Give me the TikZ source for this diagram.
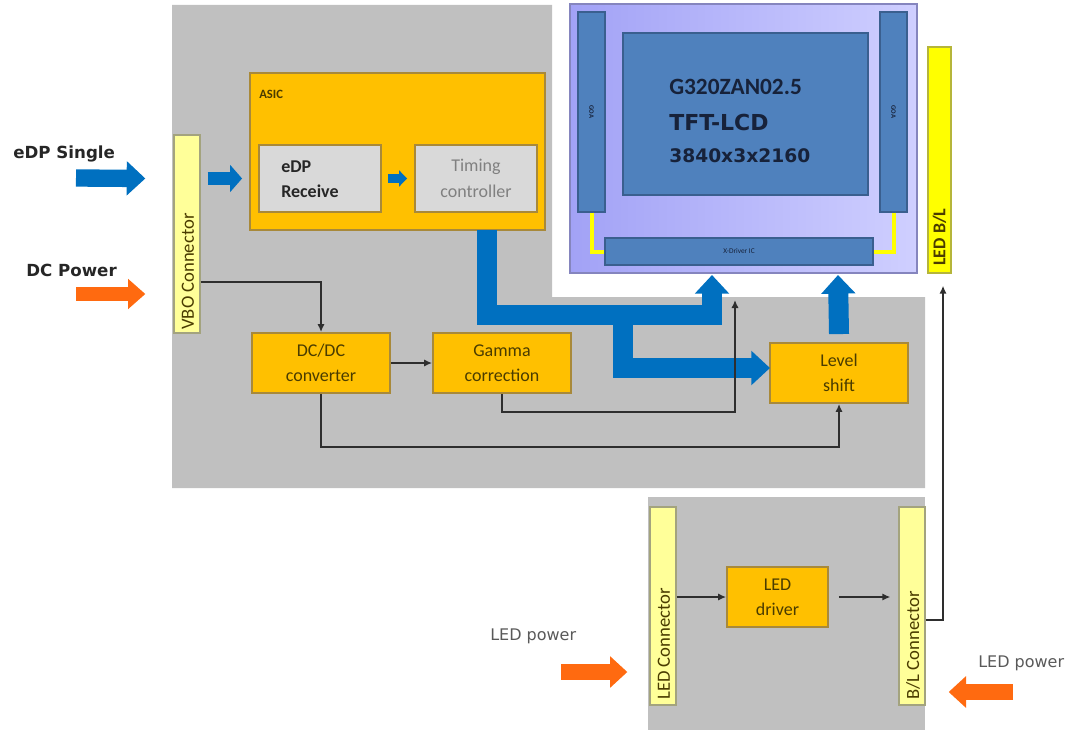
\documentclass[tikz,border=0pt]{standalone}
\usepackage{fontspec}
\setmainfont{Carlito}
\newfontfamily\dejavu{DejaVu Sans}
\usetikzlibrary{arrows.meta,fit,calc}
\definecolor{bggray}{HTML}{C0C0C0}
\definecolor{boxorange}{HTML}{FFC000}
\definecolor{boxborder}{HTML}{A8893A}
\definecolor{lgray}{HTML}{D9D9D9}
\definecolor{connfill}{HTML}{FFFF99}
\definecolor{connborder}{HTML}{A3A37E}
\definecolor{blbar}{HTML}{FFFF00}
\definecolor{blborder}{HTML}{B5B53A}
\definecolor{panelL}{HTML}{A2A2F6}
\definecolor{panelR}{HTML}{CFCFFF}
\definecolor{panelborder}{HTML}{8585BE}
\definecolor{steel}{HTML}{4F81BD}
\definecolor{steelborder}{HTML}{3A5F8F}
\definecolor{arrowblue}{HTML}{0070C0}
\definecolor{arroworange}{HTML}{FF6A10}
\definecolor{txtolive}{HTML}{4A3C00}
\definecolor{navy}{HTML}{17223A}
\definecolor{wiregray}{HTML}{2E2E2E}
\tikzset{
  region/.style={fill=bggray, draw=none},
  obox/.style={fill=boxorange, draw=boxborder, line width=1.4pt, inner sep=0pt,
    align=center, text=txtolive, font=\fontsize{13.5}{18.5}\selectfont},
  gbox/.style={fill=lgray, draw=boxborder, line width=1.4pt, inner sep=0pt,
    font=\fontsize{13.5}{18.5}\selectfont},
  boxtext/.style={align=center, inner sep=0pt, text=txtolive, font=\fontsize{13.5}{18.5}\selectfont},
  conn/.style={fill=connfill, draw=connborder, line width=1pt, inner sep=0pt},
  blbox/.style={fill=blbar, draw=blborder, line width=1pt, inner sep=0pt},
  steelbox/.style={fill=steel, draw=steelborder, line width=1pt, inner sep=0pt},
  connlabel/.style={rotate=90, anchor=west, inner sep=0pt, text=txtolive,
    font=\fontsize{14}{16}\selectfont},
  wire/.style={draw=wiregray, line width=1.6pt, -{Latex[length=6pt,width=5.5pt]}},
  fatblue/.style={draw=arrowblue, line width=15pt,
    -{Triangle[length=14pt,width=25pt]}},
  barrow/.style n args={4}{draw=#1, line width=#2,
    -{Triangle[length=#3,width=#4]}},
  yline/.style={draw=blbar, line width=3pt},
  extlabel/.style={anchor=west, inner sep=0pt, font=\dejavu\fontsize{12.5}{14}\selectfont\bfseries, text=black!85},
  pwrlabel/.style={anchor=west, inner sep=0pt, font=\dejavu\fontsize{12}{14}\selectfont, text=black!65},
  paneltext/.style={anchor=west, inner sep=0pt, text=navy}
}
\begin{document}
\begin{tikzpicture}[x=0.75pt, y=-0.75pt]
\useasboundingbox (0,0) rectangle (1073,734);

% gray backgrounds
\fill[region] (172,5) -- (552,5) -- (552,297) -- (925,297) -- (925,488) -- (172,488) -- cycle;
\node[region, inner sep=0pt, fit={(648,497) (925,730)}] (lowgray) {};

% VBO connector
\node[conn, fit={(174,135) (200,333)}] (vbo) {};
\node[connlabel] (vbolbl) at (188,330) {VBO Connector};

% ASIC
\node[obox, fit={(250,73) (545,230)}] (asic) {};
\node[anchor=west, inner sep=0pt, text=txtolive, font=\fontsize{9.5}{10}\selectfont\bfseries] (asiclbl) at (259,94) {ASIC};
\node[gbox, fit={(259,145) (381,212)}] (edprx) {};
\node[anchor=west, inner sep=0pt, align=left, font=\fontsize{13.5}{19}\selectfont\bfseries, text=black!85] (edprxt) at (281,179) {eDP\\Receive};
\node[gbox, fit={(415,145) (537,212)}] (tcon) {};
\node[align=center, inner sep=0pt, text=black!50, font=\fontsize{13.5}{19}\selectfont] (tcont) at (tcon.center) {Timing\\controller};

% LCD panel
\node[draw=panelborder, line width=1.2pt, left color=panelL, right color=panelR, inner sep=0pt, fit={(570,4) (917,273)}] (panel) {};
\node[steelbox, fit={(578,12) (605,212)}] (goaL) {};
\node[steelbox, fit={(880,12) (907,212)}] (goaR) {};
\node[rotate=-90, inner sep=0pt, text=navy, font=\fontsize{5}{6}\selectfont\bfseries] (goaLt) at (591.5,112) {GOA};
\node[rotate=-90, inner sep=0pt, text=navy, font=\fontsize{5}{6}\selectfont\bfseries] (goaRt) at (893.5,112) {GOA};
\node[steelbox, fit={(623,33) (868,195)}] (disp) {};
\node[paneltext, font=\fontsize{17.5}{19}\selectfont\bfseries] (t1) at (669,87) {G320ZAN02.5};
\node[paneltext, font=\dejavu\fontsize{16.5}{19}\selectfont\bfseries] (t2) at (669,122) {TFT-LCD};
\node[paneltext, font=\dejavu\fontsize{14}{17}\selectfont\bfseries] (t3) at (669,156) {3840x3x2160};
\node[steelbox, fit={(605,238) (873,265)}] (xdrv) {};
\node[inner sep=0pt, text=navy, font=\fontsize{5.5}{6}\selectfont] (xdrvt) at (xdrv.center) {X-Driver IC};
\draw[yline] (goaL.south) |- (xdrv.west);
\draw[yline] (goaR.south) |- (xdrv.east);

% LED B/L
\node[blbox, fit={(928,47) (951,273)}] (ledbl) {};
\node[connlabel, font=\fontsize{13.5}{16}\selectfont\bfseries] (ledblt) at (939.5,266) {LED B/L};

% lower blocks
\node[obox, fit={(252,333) (390,393)}] (dcdc) {};
\node[boxtext] (dcdct) at (dcdc.center) {DC/DC\\converter};
\node[obox, fit={(433,333) (571,393)}] (gamma) {};
\node[boxtext] (gammat) at (gamma.center) {Gamma\\correction};
\node[obox, fit={(770,343) (908,403)}] (lvl) {};
\node[boxtext] (lvlt) at (lvl.center) {Level\\shift};

% LED board
\node[conn, fit={(650,507) (676,705)}] (ledconn) {};
\node[connlabel] (ledconnt) at (664,700) {LED Connector};
\node[obox, fit={(727,567) (828,627)}] (leddrv) {};
\node[boxtext] (leddrvt) at (leddrv.center) {LED\\driver};
\node[conn, fit={(899,507) (925,705)}] (blconn) {};
\node[connlabel] (blconnt) at (913,700) {B/L Connector};

% external labels
\node[extlabel] (edplbl) at (13,154) {eDP Single};
\node[extlabel] (dclbl) at (26,270) {DC Power};
\node[pwrlabel] (pwr1) at (490,636) {LED power};
\node[pwrlabel] (pwr2) at (978,663) {LED power};

% coordinates
\coordinate (edpin) at (76,178);
\coordinate (dcin) at (76,294);
\coordinate (pin1) at (561,672);
\coordinate (pin2) at (1013,692);
\coordinate (b0) at (487,230);
\coordinate (b1) at (487,315);
\coordinate (b2) at (712,315);
\coordinate (b3) at (712,275);
\coordinate (c0) at (623,306);
\coordinate (c1) at (623,368);
\coordinate (c2) at (770,368);
\coordinate (d3) at (838,275);
\coordinate (xin) at (735,300);

% block arrows
\draw[barrow={arrowblue}{13pt}{14pt}{25pt}] (edpin) -- ($(vbo.west |- edprx.west)+(-28,0)$);
\draw[barrow={arroworange}{11pt}{13pt}{22pt}] (dcin) -- ($(vbo.west |- dcin)+(-28,0)$);
\draw[barrow={arrowblue}{10pt}{9pt}{20pt}] ($(vbo.east |- edprx.west)+(7,0)$) -- ($(asic.west |- edprx.west)+(-7,0)$);
\draw[barrow={arrowblue}{6.5pt}{6pt}{12pt}] ($(edprx.east)+(6,0)$) -- ($(tcon.west)+(-7,0)$);
\draw[barrow={arroworange}{12pt}{13pt}{23pt}] (pin1) -- ($(ledconn.west |- pin1)+(-22,0)$);
\draw[barrow={arroworange}{12pt}{13pt}{23pt}] (pin2) -- ($(blconn.east |- pin2)+(23,0)$);

% thick blue data paths
\draw[fatblue] (b0) -- (b1) -- (b2) -- (b3);
\draw[fatblue] (c0) -- (c1) -- (c2);
\draw[fatblue] ($(lvl.north)+(0,-8)$) -- (d3);

% wires
\draw[wire] ($(vbo.south east)+(0,-52)$) -| (dcdc.north);
\draw[wire] (dcdc.east) -- (gamma.west);
\draw[wire] (gamma.south) -- ++(0,18) -| (xin);
\draw[wire] (dcdc.south) -- ++(0,53) -| (lvl.south);
\draw[wire] (ledconn.east |- leddrv.west) -- (leddrv.west);
\draw[wire] ($(leddrv.east)+(10,0)$) -- ($(blconn.west |- leddrv.east)+(-8,0)$);
\draw[wire] ($(blconn.east)+(0,14)$) -| ($(ledbl.south)+(3.5,12)$);
\end{tikzpicture}
\end{document}
